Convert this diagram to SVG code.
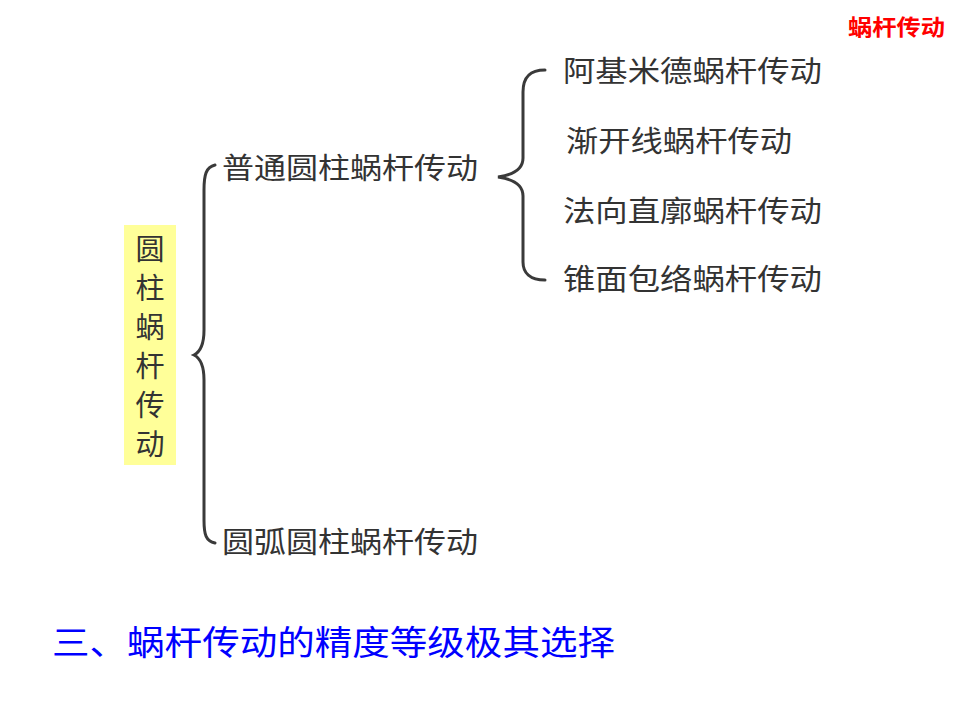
<svg xmlns="http://www.w3.org/2000/svg" width="960" height="720" viewBox="0 0 960 720">
<style>
.t{font-family:"Liberation Sans","Noto Sans CJK SC",sans-serif;fill:#333;font-size:29px}
.br{fill:none;stroke:#3a3a3a;stroke-width:3;stroke-linecap:round}
</style>
<rect width="960" height="720" fill="#fff"/>
<g id="title"><text x="848" y="35" style="font-family:'Liberation Sans','Noto Sans CJK SC',sans-serif;font-size:22px;font-weight:bold;fill:#f00" textLength="97" lengthAdjust="spacingAndGlyphs">蜗杆传动</text></g>
<g id="root">
<rect x="124" y="225" width="52" height="240" fill="#ffff99"/>
<text class="t" x="150" text-anchor="middle"><tspan x="150" y="260">圆</tspan><tspan x="150" y="299">柱</tspan><tspan x="150" y="338">蜗</tspan><tspan x="150" y="377">杆</tspan><tspan x="150" y="416">传</tspan><tspan x="150" y="455">动</tspan></text>
</g>
<g id="connectors">
<path class="br" d="M215,165 C206,167 204,175 204,190 L204,330 C204,345 200,352 194,355 C200,358 204,365 204,380 L204,520 C204,535 206,541 215,543"/>
<path class="br" d="M545,70 C530,70 523,77 523,92 L523,158 C523,170 512,175 498,177 C512,179 523,184 523,196 L523,262 C523,273 530,280 545,280"/>
</g>
<g id="n1"><text class="t" x="222" y="179" textLength="256" lengthAdjust="spacingAndGlyphs">普通圆柱蜗杆传动</text></g>
<g id="n2"><text class="t" x="222" y="553" textLength="256" lengthAdjust="spacingAndGlyphs">圆弧圆柱蜗杆传动</text></g>
<g id="n3"><text class="t" x="563" y="82" textLength="259" lengthAdjust="spacingAndGlyphs">阿基米德蜗杆传动</text></g>
<g id="n4"><text class="t" x="566" y="152" textLength="226" lengthAdjust="spacingAndGlyphs">渐开线蜗杆传动</text></g>
<g id="n5"><text class="t" x="563" y="222" textLength="259" lengthAdjust="spacingAndGlyphs">法向直廓蜗杆传动</text></g>
<g id="n6"><text class="t" x="563" y="290" textLength="259" lengthAdjust="spacingAndGlyphs">锥面包络蜗杆传动</text></g>
<g id="heading"><text x="52" y="655" style="font-family:'Liberation Sans','Noto Sans CJK SC',sans-serif;font-size:34px;fill:#0000ff" textLength="563" lengthAdjust="spacingAndGlyphs">三、蜗杆传动的精度等级极其选择</text></g>
</svg>
